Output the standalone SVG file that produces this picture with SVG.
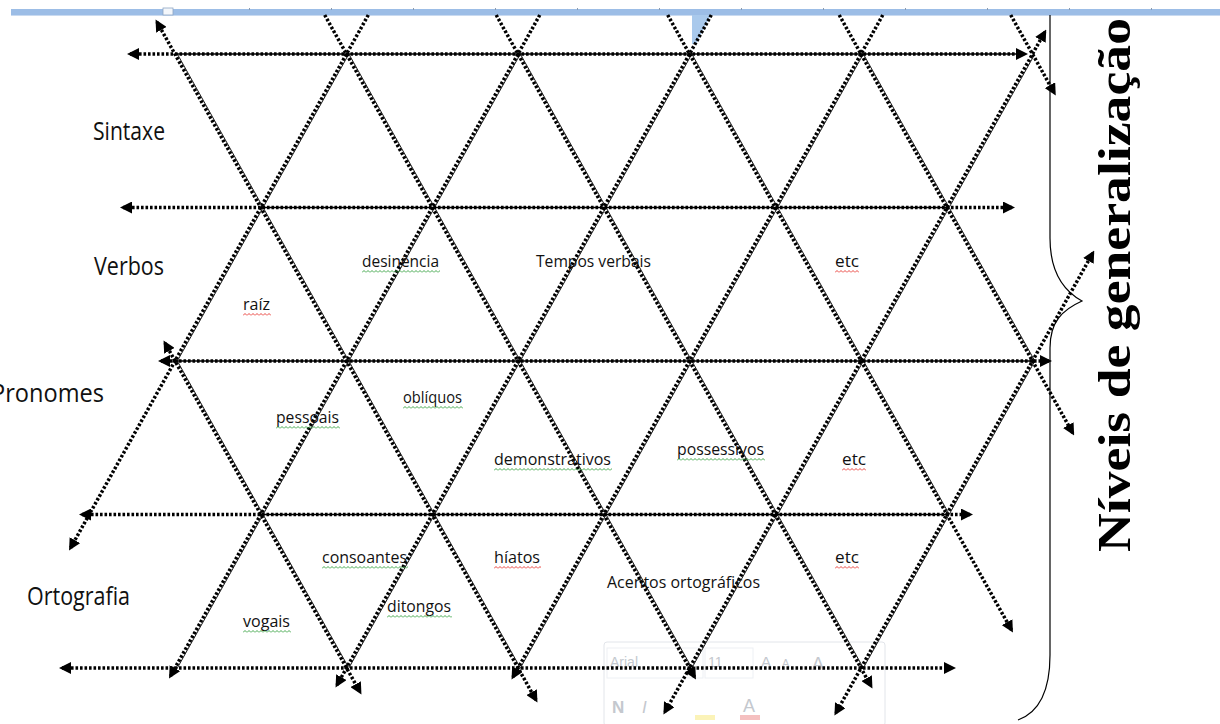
<svg xmlns="http://www.w3.org/2000/svg" width="1220" height="724" viewBox="0 0 1220 724">
<defs>
<marker id="ah" viewBox="0 0 12 12" markerWidth="12" markerHeight="12" refX="9" refY="6" orient="auto-start-reverse" markerUnits="userSpaceOnUse"><path d="M0,0 L12,6 L0,12 z" fill="#000"/></marker>
<pattern id="wr" width="4" height="3" patternUnits="userSpaceOnUse"><path d="M0,2.5 L2,0.5 L4,2.5" fill="none" stroke="#e8302a" stroke-width="0.9"/></pattern>
<pattern id="wg" width="4" height="3" patternUnits="userSpaceOnUse"><path d="M0,2.5 L2,0.5 L4,2.5" fill="none" stroke="#2e9e3a" stroke-width="0.9"/></pattern>
<style>
.dot{fill:none;stroke:#000;stroke-width:3.5;stroke-dasharray:2.6 1.9}
.sol{fill:none;stroke:#000;stroke-width:1.6}
.cmp{fill:none;stroke:#000;stroke-width:0.9}
.ae{marker-end:url(#ah)}
.as{marker-start:url(#ah)}
.big{font-family:"Open Sans","Liberation Sans",sans-serif;font-size:25px;fill:#111}
.sm{font-family:"Open Sans","Liberation Sans",sans-serif;font-size:16px;fill:#111}
.tb{font-family:"Liberation Sans",sans-serif;fill:#c4c8ce}
</style>
</defs>
<rect x="0" y="0" width="1220" height="724" fill="#fff"/>

<g id="ruler">
<rect x="11" y="9" width="1209" height="6" fill="#9cbde6"/>
<rect x="11" y="15" width="1209" height="1" fill="#c9daf0"/>
<g fill="#8a9bb0">
<rect x="249" y="8" width="1" height="2"/><rect x="331" y="8" width="1" height="2"/><rect x="413" y="8" width="1" height="2"/><rect x="495" y="8" width="1" height="2"/><rect x="577" y="8" width="1" height="2"/><rect x="659" y="8" width="1" height="2"/><rect x="741" y="8" width="1" height="2"/><rect x="823" y="8" width="1" height="2"/><rect x="905" y="8" width="1" height="2"/><rect x="987" y="8" width="1" height="2"/><rect x="1069" y="8" width="1" height="2"/><rect x="1151" y="8" width="1" height="2"/>
</g>
<rect x="163" y="8" width="10" height="7" fill="#f4f7fb" stroke="#8ea6c4" stroke-width="0.8"/>
<polygon points="692,15 711,15 696,44 692,44" fill="#a9c9ec"/>
</g>

<g id="toolbar">
<rect x="604" y="642" width="281" height="84" rx="3" fill="#fff" stroke="#e2e5ea"/>
<rect x="607" y="648" width="96" height="30" fill="none" stroke="#edf0f4"/>
<rect x="705" y="648" width="48" height="30" fill="none" stroke="#edf0f4"/>
<text class="tb" x="610" y="667" font-size="14">Arial</text>
<text class="tb" x="708" y="667" font-size="14">11</text>
<text class="tb" x="761" y="667" font-size="15">A</text>
<text class="tb" x="782" y="667" font-size="11">A</text>
<text class="tb" x="812" y="670" font-size="18">A</text>
<text class="tb" x="612" y="713" font-size="17" font-weight="bold" font-family="Liberation Serif">N</text>
<text class="tb" x="642" y="713" font-size="17" font-style="italic" font-family="Liberation Serif">I</text>
<text class="tb" x="743" y="712" font-size="18">A</text>
<rect x="695" y="715" width="20" height="5" fill="#fbf3b8"/>
<rect x="740" y="715" width="20" height="5" fill="#f5c0c0"/>
</g>

<g id="connectors">
<g id="horizontals">
<line class="dot as ae" x1="130" y1="54" x2="1025" y2="54"/>
<line class="sol" x1="177" y1="54" x2="1020" y2="54"/>
<line class="dot as ae" x1="123" y1="207.5" x2="1012" y2="207.5"/>
<line class="sol" x1="261" y1="207.5" x2="947" y2="207.5"/>
<line class="dot as ae" x1="161" y1="361" x2="1049" y2="361"/>
<line class="sol" x1="175" y1="361" x2="1032.5" y2="361"/>
<line class="dot as ae" x1="82" y1="514.5" x2="970" y2="514.5"/>
<line class="sol" x1="261" y1="514.5" x2="947" y2="514.5"/>
<line class="dot as ae" x1="62" y1="668" x2="953" y2="668"/>
</g>
<g id="diag-down-right">
<line class="dot as ae" x1="157" y1="22" x2="536" y2="700"/>
<line class="dot ae" x1="324.7" y1="15" x2="694.5" y2="677"/>
<line class="dot ae" x1="496.2" y1="15" x2="871" y2="686"/>
<line class="dot ae" x1="667.7" y1="15" x2="1011.5" y2="630"/>
<line class="dot ae" x1="839.2" y1="15" x2="1072.7" y2="433"/>
<line class="dot ae" x1="1010.7" y1="15" x2="1054.3" y2="93"/>
<line class="dot as ae" x1="165" y1="343" x2="360" y2="692"/>
</g>
<g id="diag-down-left">
<line class="dot ae" x1="368.3" y1="15" x2="70.5" y2="548"/>
<line class="dot ae" x1="539.8" y1="15" x2="170.5" y2="676"/>
<line class="dot ae" x1="711.3" y1="15" x2="337" y2="685"/>
<line class="dot ae" x1="882.8" y1="15" x2="513" y2="677"/>
<line class="dot as ae" x1="1044.8" y1="32" x2="664.9" y2="712"/>
<line class="dot as ae" x1="1092.8" y1="253" x2="835.9" y2="713"/>
</g>
<g id="companions-dr" transform="translate(1.8,-1)">
<line class="cmp" x1="175" y1="54" x2="518" y2="668"/>
<line class="cmp" x1="346.5" y1="54" x2="689.5" y2="668"/>
<line class="cmp" x1="518" y1="54" x2="861" y2="668"/>
<line class="cmp" x1="689.5" y1="54" x2="947" y2="514.5"/>
<line class="cmp" x1="861" y1="54" x2="1032.5" y2="361"/>
<line class="cmp" x1="175" y1="361" x2="346.5" y2="668"/>
</g>
<g id="companions-dl" transform="translate(1.8,1)">
<line class="cmp" x1="346.5" y1="54" x2="175" y2="361"/>
<line class="cmp" x1="518" y1="54" x2="175" y2="668"/>
<line class="cmp" x1="689.5" y1="54" x2="346.5" y2="668"/>
<line class="cmp" x1="861" y1="54" x2="518" y2="668"/>
<line class="cmp" x1="1032.5" y1="54" x2="689.5" y2="668"/>
<line class="cmp" x1="1032.5" y1="361" x2="861" y2="668"/>
</g>
</g>

<g id="brace">
<path d="M1050,15 V238 C1050,270 1062,290 1082,301 C1062,310 1050,322 1050,348 V655 C1050,690 1040,712 1018,720" fill="none" stroke="#000" stroke-width="1.2"/>
</g>

<g id="title">
<text transform="translate(1130,552) rotate(-90)" font-family="'Liberation Serif',serif" font-weight="bold" font-size="46" fill="#000" textLength="534" lengthAdjust="spacingAndGlyphs">Níveis de generalização</text>
</g>

<g id="lbl-sintaxe"><text class="big" x="93" y="140" textLength="72" lengthAdjust="spacingAndGlyphs">Sintaxe</text></g>
<g id="lbl-verbos"><text class="big" x="94" y="275" textLength="70" lengthAdjust="spacingAndGlyphs">Verbos</text></g>
<g id="lbl-pronomes"><text class="big" x="-9" y="402" textLength="113" lengthAdjust="spacingAndGlyphs">Pronomes</text></g>
<g id="lbl-ortografia"><text class="big" x="27" y="605" textLength="103" lengthAdjust="spacingAndGlyphs">Ortografia</text></g>

<g id="lbl-raiz"><text class="sm" x="243" y="310" textLength="27" lengthAdjust="spacingAndGlyphs">raíz</text><rect x="0" y="0" width="28" height="3" fill="url(#wr)" transform="translate(243,313)"/></g>
<g id="lbl-desinencia"><text class="sm" x="362" y="267" textLength="77" lengthAdjust="spacingAndGlyphs">desinência</text><rect x="0" y="0" width="78" height="3" fill="url(#wg)" transform="translate(362,270)"/></g>
<g id="lbl-tempos"><text class="sm" x="536" y="267" textLength="115" lengthAdjust="spacingAndGlyphs">Tempos verbais</text></g>
<g id="lbl-etc1"><text class="sm" x="835" y="267" textLength="24" lengthAdjust="spacingAndGlyphs">etc</text><rect x="0" y="0" width="24" height="3" fill="url(#wr)" transform="translate(835,270)"/></g>
<g id="lbl-pessoais"><text class="sm" x="276" y="423" textLength="63" lengthAdjust="spacingAndGlyphs">pessoais</text><rect x="0" y="0" width="64" height="3" fill="url(#wg)" transform="translate(276,426)"/></g>
<g id="lbl-obliquos"><text class="sm" x="403" y="403" textLength="59" lengthAdjust="spacingAndGlyphs">oblíquos</text><rect x="0" y="0" width="60" height="3" fill="url(#wg)" transform="translate(403,406)"/></g>
<g id="lbl-demonstrativos"><text class="sm" x="494" y="465" textLength="117" lengthAdjust="spacingAndGlyphs">demonstrativos</text><rect x="0" y="0" width="118" height="3" fill="url(#wg)" transform="translate(494,468)"/></g>
<g id="lbl-possessivos"><text class="sm" x="677" y="455" textLength="87" lengthAdjust="spacingAndGlyphs">possessivos</text><rect x="0" y="0" width="88" height="3" fill="url(#wg)" transform="translate(677,458)"/></g>
<g id="lbl-etc2"><text class="sm" x="842" y="465" textLength="24" lengthAdjust="spacingAndGlyphs">etc</text><rect x="0" y="0" width="24" height="3" fill="url(#wr)" transform="translate(842,468)"/></g>
<g id="lbl-consoantes"><text class="sm" x="322" y="563" textLength="85" lengthAdjust="spacingAndGlyphs">consoantes</text><rect x="0" y="0" width="86" height="3" fill="url(#wg)" transform="translate(322,566)"/></g>
<g id="lbl-hiatos"><text class="sm" x="494" y="563" textLength="46" lengthAdjust="spacingAndGlyphs">híatos</text><rect x="0" y="0" width="47" height="3" fill="url(#wr)" transform="translate(494,566)"/></g>
<g id="lbl-etc3"><text class="sm" x="835" y="563" textLength="24" lengthAdjust="spacingAndGlyphs">etc</text><rect x="0" y="0" width="24" height="3" fill="url(#wr)" transform="translate(835,566)"/></g>
<g id="lbl-acentos"><text class="sm" x="607" y="588" textLength="153" lengthAdjust="spacingAndGlyphs">Acentos ortográficos</text></g>
<g id="lbl-ditongos"><text class="sm" x="387" y="612" textLength="64" lengthAdjust="spacingAndGlyphs">ditongos</text><rect x="0" y="0" width="65" height="3" fill="url(#wg)" transform="translate(387,615)"/></g>
<g id="lbl-vogais"><text class="sm" x="243" y="627" textLength="47" lengthAdjust="spacingAndGlyphs">vogais</text><rect x="0" y="0" width="48" height="3" fill="url(#wg)" transform="translate(243,630)"/></g>
</svg>
